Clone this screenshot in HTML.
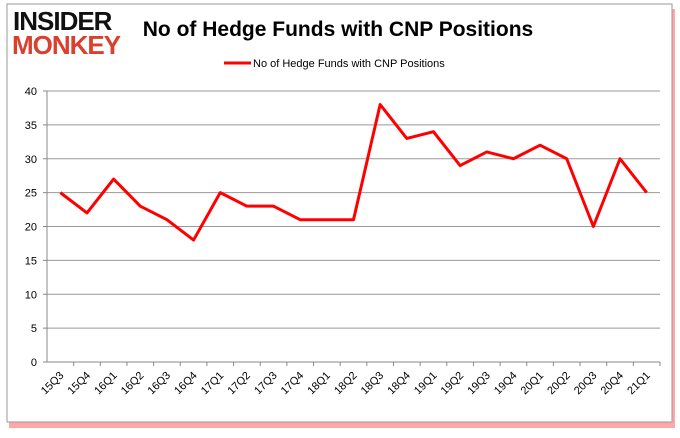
<!DOCTYPE html>
<html><head><meta charset="utf-8"><style>
body{margin:0;width:680px;height:433px;background:#fff;font-family:"Liberation Sans",sans-serif;overflow:hidden}
</style></head><body>
<svg id="c" width="680" height="433" xmlns="http://www.w3.org/2000/svg">
<rect x="9" y="9" width="666" height="419" fill="#f00" opacity="0.35"/>
<rect x="7" y="4" width="665" height="418" fill="#fff" stroke="#999"/>
<text x="13" y="30" font-size="26" font-weight="bold" fill="#111" font-family="Liberation Sans" letter-spacing="-1">INSIDER</text>
<text x="12" y="54" font-size="26" font-weight="bold" fill="#d9412e" font-family="Liberation Sans" letter-spacing="-1">MONKEY</text>
<text x="338" y="36" text-anchor="middle" font-size="21" font-weight="bold" fill="#000">No of Hedge Funds with CNP Positions</text>
<line x1="224" y1="63" x2="251" y2="63" stroke="#f00" stroke-width="3"/>
<text x="253" y="67" font-size="11" fill="#000">No of Hedge Funds with CNP Positions</text>
<g id="g"></g>
</svg>
<script>
const categories=["15Q3","15Q4","16Q1","16Q2","16Q3","16Q4","17Q1","17Q2","17Q3","17Q4","18Q1","18Q2","18Q3","18Q4","19Q1","19Q2","19Q3","19Q4","20Q1","20Q2","20Q3","20Q4","21Q1"];
const values=[25,22,27,23,21,18,25,23,23,21,21,21,38,33,34,29,31,30,32,30,20,30,25];
const yTicks=[0,5,10,15,20,25,30,35,40];
const L=47,R=660,T=91,B=362,ymax=40;
const bw=(R-L)/categories.length;
const xs=i=>L+bw*(i+0.5);
const ys=v=>B-(B-T)*v/ymax;
const g=document.getElementById('g');
const ns='http://www.w3.org/2000/svg';
function mk(t,a){const e=document.createElementNS(ns,t);for(const k in a)e.setAttribute(k,a[k]);g.appendChild(e);return e;}
yTicks.forEach(v=>{
 const y=ys(v);
 if(v>0){const l=mk('line',{x1:L,x2:R,y1:y,y2:y,stroke:'#999','stroke-width':1});
 
 }
 const tk=mk('line',{x1:L-4,x2:L,y1:y,y2:y,stroke:'#888'});
 
 
 const t=mk('text',{x:L-10,y:y+4,'text-anchor':'end','font-size':11});
 t.textContent=v;
 
 
});
const ax=mk('line',{x1:L,x2:L,y1:T,y2:B,stroke:'#888'});


const bx=mk('line',{x1:L,x2:R,y1:B,y2:B,stroke:'#888'});


categories.forEach((c,i)=>{
 const x=L+bw*(i+1);
 const tk=mk('line',{x1:x,x2:x,y1:B,y2:B+4,stroke:'#888'});
 
 
 const cx=xs(i)+4,cy=B+14;
 const t=mk('text',{x:cx,y:cy,'text-anchor':'end','font-size':11,transform:`rotate(-45 ${cx} ${cy})`});
 t.textContent=c;
 
 
});
const p=mk('polyline',{points:values.map((v,i)=>xs(i)+','+ys(v)).join(' '),fill:'none',stroke:'#f00','stroke-width':3,'stroke-linejoin':'round'});


</script>
</body></html>
